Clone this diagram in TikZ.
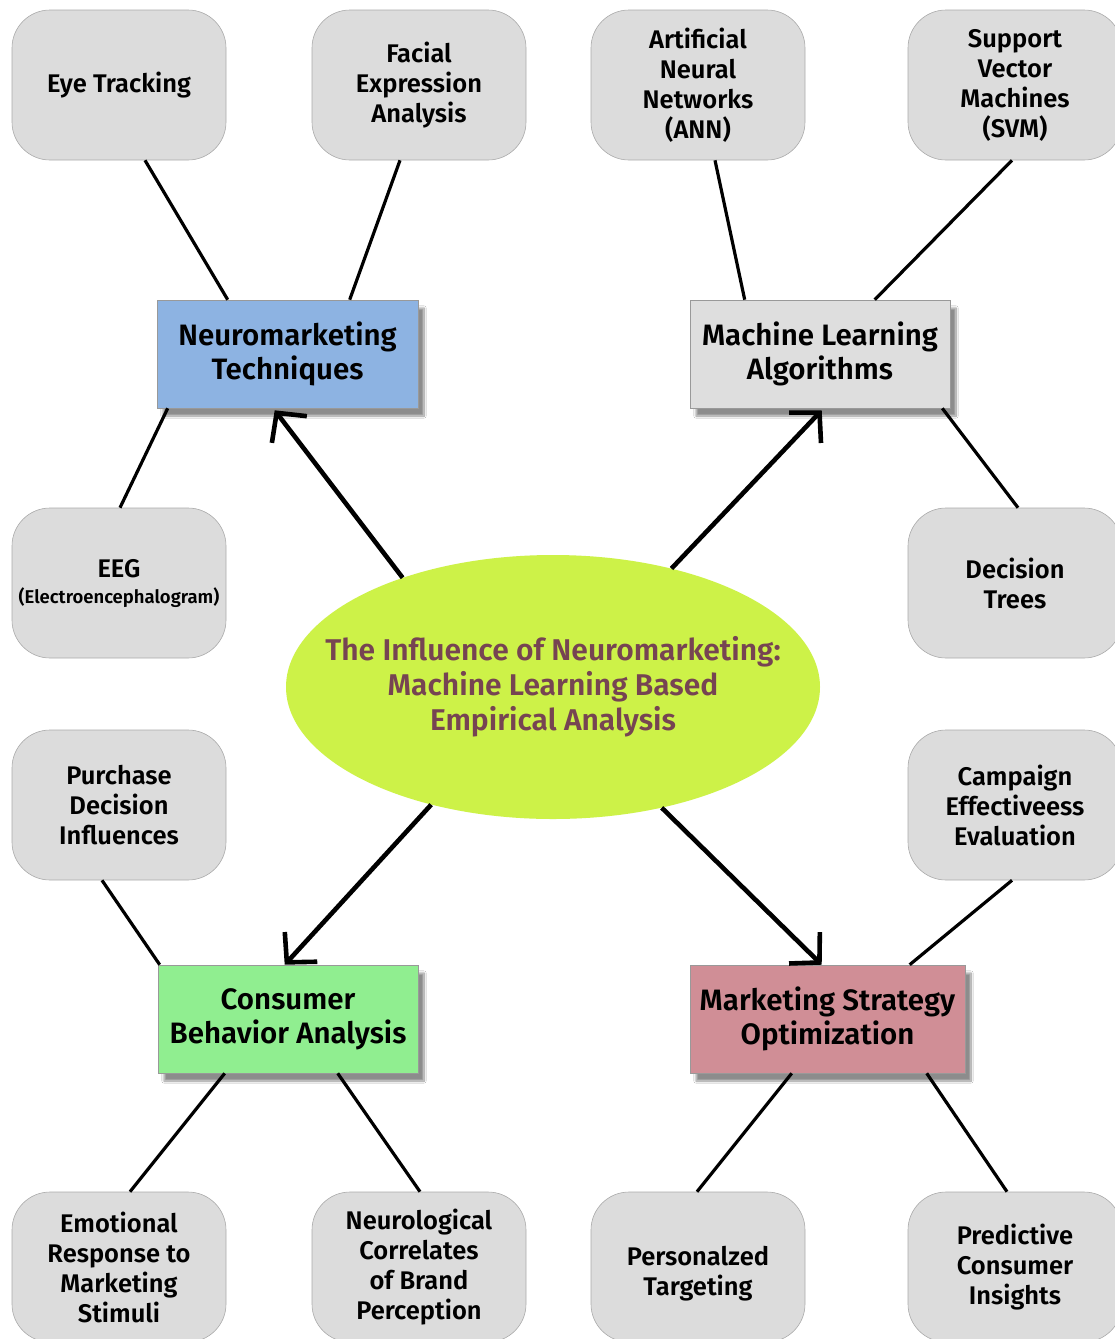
\documentclass[tikz,border=0pt]{standalone}
\usepackage{fontspec}
\setmainfont{Fira Sans}[UprightFont=* SemiBold]
\usetikzlibrary{shapes.geometric,arrows.meta,shadows.blur}

\definecolor{leafgray}{HTML}{DCDCDC}
\definecolor{leafline}{HTML}{ABABAB}
\definecolor{techblue}{HTML}{8DB3E2}
\definecolor{algogray}{HTML}{DEDEDE}
\definecolor{behgreen}{HTML}{90EE90}
\definecolor{stratpink}{HTML}{D08E96}
\definecolor{corelime}{HTML}{CDF248}
\definecolor{coretext}{HTML}{764452}

\tikzset{
  leaf/.style={draw=leafline,line width=0.6pt,fill=leafgray,rounded corners=38pt,
    minimum width=214pt,minimum height=150pt,align=center,
    font=\fontsize{25.5}{30}\selectfont},
  hub/.style={draw=black!40,line width=0.6pt,minimum height=108pt,align=center,
    font=\fontsize{29.5}{34}\selectfont,
    blur shadow={shadow xshift=6pt,shadow yshift=-8pt,shadow blur steps=10,shadow opacity=45}},
  core/.style={ellipse,fill=corelime,minimum width=534pt,minimum height=264pt,inner sep=0pt},
  coretitle/.style={align=center,text=coretext,font=\fontsize{30}{35}\selectfont},
  link/.style={line width=3.2pt},
  push/.style={line width=4.6pt,-{Straight Barb[length=21pt,width=44pt,line width=4.6pt]}}
}

\begin{document}
\begin{tikzpicture}[x=1pt,y=-1pt]
\useasboundingbox (0,0) rectangle (1115,1339);
\fill[white] (0,0) rectangle (1115,1339);

% centre
\node[core] (core) at (553,687) {};
\node[coretitle] (title) at (core.center) {The Influence of Neuromarketing:\\Machine Learning Based\\Empirical Analysis};

% four hubs
\node[hub,fill=techblue,minimum width=261pt] (nt) at (287.5,354) {Neuromarketing\\Techniques};
\node[hub,fill=algogray,minimum width=260pt] (mla) at (820,354) {Machine Learning\\Algorithms};
\node[hub,fill=behgreen,minimum width=260pt] (cba) at (288,1019) {Consumer\\Behavior Analysis};
\node[hub,fill=stratpink,minimum width=275pt] (mso) at (827.5,1019) {Marketing Strategy\\Optimization};

% leaves
\node[leaf] (et) at (119,85) {\raisebox{-4pt}{Eye Tracking}};
\node[leaf] (fea) at (419,85) {Facial\\Expression\\Analysis};
\node[leaf] (eeg) at (119,583) {EEG\\[-4pt]{\fontsize{18.5}{22}\selectfont(Electroencephalogram)}};
\node[leaf] (ann) at (698,85) {Artificial\\Neural\\Networks\\(ANN)};
\node[leaf] (svm) at (1015,85) {Support\\Vector\\Machines\\(SVM)};
\node[leaf] (dt) at (1015,583) {Decision\\Trees};
\node[leaf] (pdi) at (119,805) {Purchase\\Decision\\Influences};
\node[leaf] (cee) at (1015,805) {Campaign\\Effectiveess\\Evaluation};
\node[leaf] (erm) at (119,1267) {Emotional\\Response to\\Marketing\\Stimuli};
\node[leaf] (ncb) at (419,1267) {Neurological\\Correlates\\of Brand\\Perception};
\node[leaf] (pt) at (698,1267) {\\[2pt]Personalzed\\Targeting};
\node[leaf] (pci) at (1015,1267) {Predictive\\Consumer\\Insights};

% thin links
\draw[link] ([xshift=26pt]et.south) -- ([xshift=71pt]nt.north west);
\draw[link] ([xshift=-19pt]fea.south) -- ([xshift=193pt]nt.north west);
\draw[link] ([xshift=1pt]eeg.north) -- ([xshift=11pt]nt.south west);
\draw[link] ([xshift=17pt]ann.south) -- ([xshift=55pt]mla.north west);
\draw[link] ([xshift=-3pt]svm.south) -- ([xshift=185pt]mla.north west);
\draw[link] ([xshift=3pt]dt.north) -- ([xshift=-8pt]mla.south east);
\draw[link] ([xshift=-17pt]pdi.south) -- ([xshift=2pt]cba.north west);
\draw[link] ([xshift=-3pt]cee.south) -- ([xshift=220pt]mso.north west);
\draw[link] ([xshift=11pt]erm.north) -- ([xshift=67pt]cba.south west);
\draw[link] ([xshift=1pt]ncb.north) -- ([xshift=180pt]cba.south west);
\draw[link] ([xshift=-1pt]pt.north) -- ([xshift=102pt]mso.south west);
\draw[link] ([xshift=-8pt]pci.north) -- ([xshift=237pt]mso.south west);

% arrows out of the centre
\draw[push] (core.144) -- ([xshift=118pt,yshift=-2pt]nt.south west);
\draw[push] (core.45) -- ([xshift=132pt,yshift=-2pt]mla.south west);
\draw[push] (core.224) -- ([xshift=127pt]cba.north west);
\draw[push] (core.312) -- ([xshift=132pt]mso.north west);
\end{tikzpicture}
\end{document}
